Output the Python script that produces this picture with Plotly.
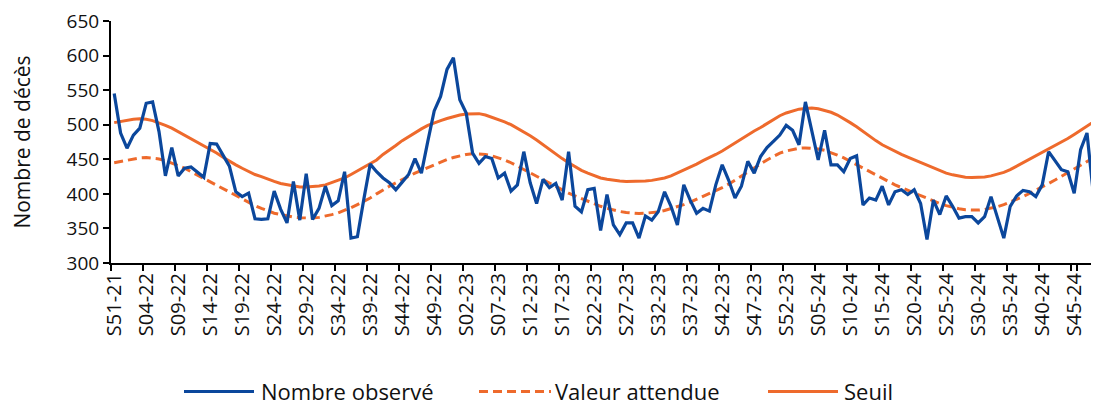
import plotly.graph_objects as go

# ---- data ----
observe = [545, 488, 466, 485, 495, 531, 533, 490, 426, 467, 426, 437, 439, 432, 424, 473, 472, 456, 440, 403,
           396, 401, 364, 363, 364, 404, 378, 358, 418, 362, 429, 363, 379, 411, 383, 390, 432, 336, 338, 392,
           443, 432, 423, 416, 406, 417, 428, 451, 430, 476, 520, 541, 580, 597, 536, 517, 459, 444, 454, 451,
           423, 430, 404, 413, 461, 416, 386, 421, 409, 415, 391, 461, 382, 374, 406, 408, 347, 399, 355, 341,
           358, 358, 336, 368, 362, 374, 403, 382, 355, 413, 391, 372, 379, 375, 413, 442, 420, 394, 411, 447,
           430, 454, 467, 476, 485, 499, 492, 471, 533, 491, 449, 492, 442, 442, 432, 451, 455, 384, 394, 391,
           411, 384, 403, 406, 399, 406, 386, 334, 391, 370, 397, 382, 365, 367, 367, 358, 367, 396, 367, 336,
           382, 397, 405, 403, 396, 413, 461, 447, 435, 432, 401, 464, 488, 399, 458]

attendue = [445, 447, 449, 451, 452, 452.5, 452, 450.5, 448, 445, 441, 437, 432, 427, 423, 418, 413, 408, 403, 398,
            393, 388, 383, 379, 375, 372, 370, 368, 366.5, 365.5, 365, 365, 366, 367.5, 370, 372.5, 376, 380, 384.5, 389,
            394, 400, 406, 411, 416, 421, 425.5, 430, 434, 438, 442, 446, 449.5, 452.5, 455, 457, 458, 458, 457, 455,
            452.5, 449, 445, 440, 435, 430, 425, 420, 415, 410, 405.5, 401, 397, 393, 389, 385.5, 382, 379, 376.5, 374.5,
            373, 372, 371.5, 372, 372.5, 374, 376, 378.5, 381, 384.5, 388, 392, 396, 400, 404, 409, 414, 420, 425, 431,
            437, 443, 449, 454, 459, 462, 464.5, 466, 466.5, 466, 465, 463, 460, 456, 452, 447, 442, 437, 432, 427,
            422, 417, 413, 409, 405, 401, 397, 393, 389.5, 386, 383, 380.5, 378.5, 377, 376.5, 376.5, 377.5, 379, 381.5, 384.5,
            388, 392, 396, 400.5, 405, 410, 415, 420, 425.5, 431, 436.5, 442, 447, 452, 457]

seuil = [503, 505, 507, 508, 508.5, 508, 506, 503, 499, 495, 490, 485, 480, 475, 470, 465, 459, 453, 447, 442,
         437, 432, 428, 425, 421, 418, 415, 413, 411, 410, 410, 410.5, 411.5, 413, 416, 419, 423, 428, 433, 438,
         443, 449, 457, 463, 470, 477, 483, 489, 494, 499, 503, 506, 509, 512, 514, 515.5, 516, 516, 514, 511,
         508, 504, 500, 495, 489, 484, 478, 471, 464, 457, 451, 445, 439, 434, 430, 426, 423, 421, 419.5, 418.5,
         418, 418, 418, 418.5, 419.5, 421, 423, 426, 430, 434, 438, 443, 448, 452, 457, 462, 468, 474, 480, 486,
         491, 496, 502, 508, 513, 517, 520, 522.5, 523.5, 524, 523, 521, 518, 514, 509, 503, 497, 490, 483, 477,
         471, 466, 462, 457, 453, 449, 445, 441, 437, 433, 430, 427.5, 425.5, 424, 423.5, 423.5, 424.5, 426, 428, 431,
         435, 440, 444.5, 450, 455, 460, 465, 470, 475, 480, 486, 492, 498, 504, 510]

# week categories: S51-21 ... S49-24
year_weeks = [(21, [51, 52]), (22, list(range(1, 53))), (23, list(range(1, 53))), (24, list(range(1, 50)))]
semaines = [f"S{w:02d}-{y}" for y, ws in year_weeks for w in ws]

BLUE = "#0B479C"
ORANGE = "#EE6A2C"
FONT = "Open Sans"
TXT = "#111111"

fig = go.Figure()
fig.add_trace(go.Scatter(x=semaines, y=seuil, mode="lines", name="Seuil",
                         line=dict(color=ORANGE, width=3), showlegend=False))
fig.add_trace(go.Scatter(x=semaines, y=attendue, mode="lines", name="Valeur attendue",
                         line=dict(color=ORANGE, width=3, dash="9px,5px"), showlegend=False))
fig.add_trace(go.Scatter(x=semaines, y=observe, mode="lines", name="Nombre observé",
                         line=dict(color=BLUE, width=3.2), showlegend=False))

# page is 1099x408; the browser's default 8px body margin offsets the figure
PAGE_W, PAGE_H, OFF = 1099, 408, 8
W, H = PAGE_W - OFF, PAGE_H - OFF
# plot area in page pixels: x 111..1099, y 20.7..263.3
L = 111 - OFF
R = 0
T = 20.7 - OFF
B = H - (263.3 - OFF)
pw, ph = W - L - R, H - T - B


def px(xpage):
    return (xpage - OFF - L) / pw


def py(ypage):
    return (H - B - (ypage - OFF)) / ph


# custom legend (long line symbols as in the reference)
legend_items = [("Nombre observé", BLUE, "solid", 184, 254, 259),
                ("Valeur attendue", ORANGE, "dash", 479, 551, 553),
                ("Seuil", ORANGE, "solid", 768, 838, 842)]
shapes = []
annotations = []
ly = 392
for name, col, dash, x0, x1, xt in legend_items:
    shapes.append(dict(type="line", xref="paper", yref="paper", x0=px(x0), x1=px(x1), y0=py(ly), y1=py(ly),
                       line=dict(color=col, width=3, dash="9px,5px" if dash == "dash" else "solid")))
    annotations.append(dict(text=name, xref="paper", yref="paper", x=px(xt), y=py(ly), xanchor="left",
                            yanchor="middle", showarrow=False, font=dict(family=FONT, size=22, color=TXT)))

fig.update_layout(
    width=W, height=H,
    margin=dict(l=L, r=R, t=T, b=B, autoexpand=False),
    plot_bgcolor="white", paper_bgcolor="white",
    font=dict(family=FONT, size=20, color=TXT),
    shapes=shapes, annotations=annotations,
    showlegend=False,
)
fig.update_xaxes(
    type="category", range=[-0.5, -0.5 + pw / 6.4], automargin=False,
    tickmode="array", tickvals=semaines[::5], ticktext=semaines[::5],
    tickson="boundaries", tickangle=-90, ticks="outside", ticklen=6, tickwidth=1.5, tickcolor="black",
    showline=True, linecolor="black", linewidth=2, showgrid=False, zeroline=False,
    tickfont=dict(family=FONT, size=20, color=TXT),
)
fig.update_yaxes(
    range=[300, 650], dtick=50, tick0=300, ticks="outside", ticklen=6, tickwidth=1.5, tickcolor="black",
    showline=True, linecolor="black", linewidth=2, showgrid=False, zeroline=False, automargin=False,
    ticklabeloverflow="allow",
    tickfont=dict(family=FONT, size=19, color=TXT),
    title=dict(text="Nombre de décès", font=dict(family=FONT, size=21, color=TXT), standoff=30),
)

fig.write_html("out.html")
